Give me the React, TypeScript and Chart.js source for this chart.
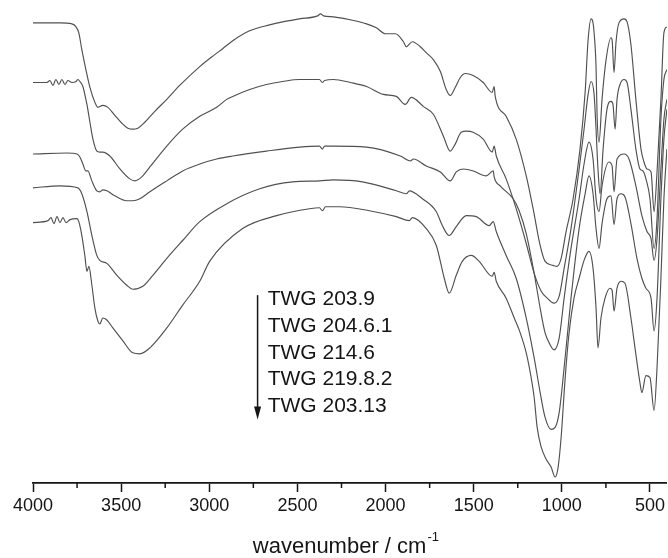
import React, { useEffect, useRef } from 'react';
import { Chart, registerables } from 'chart.js';

Chart.register(...registerables);

// ---- axis settings ----
const X_MIN = 404;
const X_MAX = 4000;
const Y_MIN = 2.8;
const Y_MAX = 100;
const xTickValues = [4000, 3500, 3000, 2500, 2000, 1500, 1000, 500];
const xMinorTickValues = [3750, 3250, 2750, 2250, 1750, 1250, 750];

// ---- series names (top to bottom) ----
const seriesLabels = ['TWG 203.9', 'TWG 204.6.1', 'TWG 214.6', 'TWG 219.8.2', 'TWG 203.13'];

// ---- spectra: [wavenumber (cm-1), transmittance (a.u., offset)] ----
const spectrumA: [number, number][] = [
  [4000, 95.4], [3847, 95.4], [3779, 95.2], [3756, 94.6], [3740, 93.4], [3723, 90.0], [3700, 86.0],
  [3677, 82.4], [3649, 79.4], [3632, 78.4], [3604, 78.8], [3575, 78.4], [3536, 76.8], [3496, 75.2],
  [3462, 74.2], [3434, 74.0], [3405, 74.2], [3366, 75.4], [3309, 77.6], [3241, 80.0], [3168, 82.8],
  [3054, 86.6], [2969, 89.0], [2924, 90.2], [2867, 91.8], [2771, 93.8], [2658, 95.0], [2584, 95.6],
  [2488, 96.2], [2386, 96.8], [2369, 97.2], [2352, 96.8], [2295, 96.6], [2199, 96.0], [2108, 95.2],
  [2052, 94.4], [2001, 93.2], [1944, 93.2], [1899, 91.6], [1882, 90.6], [1848, 91.6], [1803, 90.6],
  [1769, 89.4], [1729, 88.0], [1689, 85.6], [1656, 82.0], [1633, 80.8], [1605, 82.4], [1576, 84.4],
  [1548, 85.2], [1503, 84.8], [1446, 83.4], [1395, 81.4], [1384, 82.6], [1378, 80.6], [1316, 76.6],
  [1259, 72.0], [1202, 64.6], [1163, 58.0], [1123, 50.6], [1095, 47.4], [1050, 46.6], [1027, 46.4],
  [1004, 48.0], [976, 53.4], [936, 60.0], [897, 70.0], [868, 81.4], [851, 92.0], [834, 96.2],
  [823, 95.4], [817, 93.4], [806, 86.6], [800, 76.6], [789, 71.4], [772, 80.0], [749, 88.0],
  [721, 92.4], [715, 92.0], [704, 85.4], [693, 91.4], [676, 95.4], [647, 96.2], [630, 95.6],
  [608, 91.0], [580, 80.0], [551, 70.0], [534, 67.4], [517, 66.0], [494, 65.4], [477, 57.4],
  [460, 65.4], [438, 80.0], [421, 93.4], [404, 94.6],
];

const spectrumB: [number, number][] = [
  [4000, 83.4], [3921, 83.4], [3904, 83.8], [3887, 82.8], [3870, 84.0], [3853, 83.0], [3836, 84.0],
  [3819, 83.0], [3802, 83.8], [3779, 83.4], [3756, 83.6], [3745, 84.0], [3734, 83.6], [3717, 82.6],
  [3700, 80.0], [3694, 79.0], [3677, 75.4], [3660, 72.0], [3638, 69.6], [3621, 69.4], [3604, 69.4],
  [3564, 68.6], [3507, 66.0], [3451, 64.0], [3422, 63.6], [3383, 64.4], [3337, 66.4], [3241, 70.6],
  [3151, 74.0], [3054, 76.6], [2958, 78.4], [2901, 80.0], [2867, 80.6], [2771, 82.0], [2675, 83.0],
  [2584, 83.6], [2488, 84.0], [2375, 84.0], [2358, 83.4], [2346, 83.8], [2295, 84.0], [2199, 83.4],
  [2108, 82.6], [2012, 81.0], [1939, 80.6], [1888, 79.0], [1854, 80.4], [1786, 78.6], [1729, 77.0],
  [1672, 72.6], [1633, 69.6], [1605, 71.0], [1571, 73.4], [1542, 73.6], [1503, 73.4], [1446, 72.0],
  [1395, 69.4], [1384, 70.6], [1372, 68.6], [1316, 64.0], [1259, 58.0], [1202, 51.0], [1157, 45.0],
  [1117, 41.4], [1083, 40.0], [1044, 39.0], [1015, 40.4], [987, 46.0], [948, 54.0], [902, 66.0],
  [874, 74.0], [851, 81.0], [834, 83.6], [817, 81.0], [806, 74.0], [795, 66.0], [783, 61.0],
  [766, 70.0], [744, 78.0], [721, 79.6], [710, 79.0], [698, 74.0], [687, 80.0], [670, 83.0],
  [647, 84.0], [630, 83.4], [608, 78.0], [580, 70.0], [557, 66.0], [540, 65.6], [523, 64.0],
  [500, 60.0], [477, 50.0], [460, 56.0], [438, 76.0], [421, 84.0], [404, 86.0],
];

const spectrumC: [number, number][] = [
  [4000, 69.0], [3807, 69.2], [3751, 69.0], [3734, 68.4], [3717, 67.0], [3700, 65.6], [3689, 65.6],
  [3666, 63.6], [3638, 61.6], [3621, 61.4], [3604, 61.8], [3581, 61.6], [3536, 60.6], [3468, 59.6],
  [3434, 59.6], [3394, 60.0], [3337, 61.4], [3241, 63.6], [3151, 65.6], [3054, 67.0], [2958, 68.0],
  [2867, 68.6], [2675, 69.6], [2488, 70.4], [2375, 70.6], [2358, 70.0], [2346, 70.6], [2295, 70.6],
  [2108, 70.4], [1916, 68.6], [1859, 67.6], [1842, 68.0], [1769, 66.6], [1689, 65.4], [1633, 63.6],
  [1599, 65.4], [1559, 66.0], [1503, 65.6], [1429, 64.6], [1389, 65.6], [1384, 64.4], [1350, 62.6],
  [1276, 60.0], [1242, 57.6], [1202, 53.0], [1157, 45.0], [1123, 38.0], [1095, 33.0], [1072, 31.0],
  [1044, 29.6], [1015, 32.0], [987, 40.0], [948, 50.0], [902, 60.0], [874, 67.0], [846, 71.4],
  [823, 68.0], [806, 60.0], [789, 57.4], [772, 62.6], [733, 67.4], [715, 66.6], [704, 61.4],
  [687, 68.0], [647, 69.0], [619, 68.0], [580, 62.6], [546, 56.6], [517, 53.4], [494, 52.0],
  [477, 47.6], [460, 52.0], [438, 66.0], [421, 76.0], [404, 80.0],
];

const spectrumD: [number, number][] = [
  [4000, 62.2], [3847, 62.6], [3745, 62.2], [3723, 61.0], [3694, 57.4], [3666, 52.6], [3638, 48.6],
  [3621, 47.6], [3581, 47.0], [3524, 44.6], [3468, 42.6], [3434, 41.8], [3377, 42.4], [3320, 44.6],
  [3241, 48.0], [3151, 51.6], [3054, 55.4], [2901, 59.0], [2714, 62.0], [2528, 63.4], [2375, 63.6],
  [2295, 63.8], [2131, 63.4], [1939, 61.6], [1882, 61.0], [1865, 61.6], [1791, 60.0], [1712, 57.4],
  [1678, 54.6], [1639, 52.6], [1599, 54.4], [1542, 56.6], [1486, 56.4], [1412, 54.6], [1389, 55.4],
  [1372, 53.4], [1316, 48.6], [1259, 44.0], [1202, 36.0], [1157, 28.0], [1123, 21.0], [1095, 16.0],
  [1061, 13.6], [1038, 14.0], [1015, 17.0], [987, 26.0], [948, 40.0], [902, 54.0], [868, 61.0],
  [846, 64.6], [823, 61.0], [806, 54.0], [789, 50.0], [772, 55.0], [744, 60.0], [721, 60.6],
  [704, 54.8], [687, 60.0], [664, 61.0], [642, 60.4], [608, 55.0], [574, 48.0], [546, 44.0],
  [523, 42.0], [494, 40.0], [477, 33.4], [460, 40.0], [438, 60.0], [421, 72.0], [404, 78.0],
];

const spectrumE: [number, number][] = [
  [4000, 55.2], [3915, 55.6], [3898, 56.2], [3881, 55.0], [3864, 56.4], [3847, 55.2], [3830, 56.2],
  [3813, 55.2], [3790, 55.8], [3751, 56.0], [3740, 55.4], [3723, 52.6], [3706, 48.6], [3694, 45.4],
  [3683, 46.4], [3666, 42.6], [3649, 38.0], [3632, 35.4], [3621, 34.8], [3604, 36.0], [3581, 35.6],
  [3547, 34.0], [3490, 31.4], [3434, 29.0], [3394, 28.8], [3337, 30.0], [3241, 34.0], [3151, 38.6],
  [3054, 43.4], [2998, 47.4], [2811, 54.0], [2618, 56.6], [2431, 58.0], [2375, 58.2], [2358, 57.6],
  [2341, 58.4], [2261, 58.4], [2092, 57.6], [1939, 56.4], [1865, 55.6], [1848, 56.2], [1769, 54.0],
  [1712, 50.6], [1667, 44.0], [1639, 41.0], [1599, 44.6], [1565, 47.4], [1514, 48.6], [1469, 47.4],
  [1395, 44.4], [1384, 45.2], [1372, 43.4], [1316, 40.0], [1270, 36.0], [1236, 33.0], [1202, 29.0],
  [1174, 24.0], [1157, 20.0], [1140, 14.0], [1117, 10.0], [1089, 7.6], [1061, 6.0], [1038, 4.0],
  [1021, 6.0], [1004, 12.0], [981, 24.0], [959, 33.0], [931, 40.0], [902, 44.0], [874, 47.6],
  [846, 49.4], [823, 46.0], [806, 38.0], [795, 30.0], [778, 36.0], [755, 40.0], [727, 42.0],
  [715, 41.6], [704, 37.4], [687, 42.0], [664, 43.4], [642, 43.0], [608, 36.0], [585, 30.0],
  [557, 23.0], [546, 21.0], [523, 24.4], [500, 24.0], [477, 17.4], [460, 26.0], [438, 44.0],
  [421, 60.0], [404, 70.0],
];

const spectra = [spectrumA, spectrumB, spectrumC, spectrumD, spectrumE];

// ---- annotation (in data coordinates) ----
const annotationX = 2669;
const annotationYs = [39.8, 34.4, 29.0, 23.6, 18.2];
const arrowX = 2726;
const arrowTopY = 40.6;
const arrowBottomY = 15.6;
const axisTitle = 'wavenumber / cm';
const axisTitleSup = '-1';
const axisTitleCenterX = 2228;

const FONT = '"Liberation Sans", Arial, Helvetica, sans-serif';
const LINE_COLOR = '#505050';
const INK = '#151515';

const decorPlugin = {
  id: 'decor',
  afterDraw(chart: any) {
    const { ctx } = chart;
    const x = chart.scales.x;
    const y = chart.scales.y;
    ctx.save();
    // minor ticks
    ctx.strokeStyle = INK;
    ctx.lineWidth = 1.5;
    for (const v of xMinorTickValues) {
      const px = x.getPixelForValue(v);
      ctx.beginPath();
      ctx.moveTo(px, x.top);
      ctx.lineTo(px, x.top + 5);
      ctx.stroke();
    }
    // arrow
    const ax = x.getPixelForValue(arrowX);
    const ay1 = y.getPixelForValue(arrowTopY);
    const ay2 = y.getPixelForValue(arrowBottomY);
    ctx.lineWidth = 1.5;
    ctx.beginPath();
    ctx.moveTo(ax, ay1);
    ctx.lineTo(ax, ay2 - 10);
    ctx.stroke();
    ctx.fillStyle = INK;
    ctx.beginPath();
    ctx.moveTo(ax - 3.5, ay2 - 13);
    ctx.lineTo(ax + 3.5, ay2 - 13);
    ctx.lineTo(ax, ay2);
    ctx.closePath();
    ctx.fill();
    // labels
    ctx.font = `21px ${FONT}`;
    ctx.textAlign = 'left';
    ctx.textBaseline = 'middle';
    const tx = x.getPixelForValue(annotationX);
    seriesLabels.forEach((t, i) => {
      ctx.fillText(t, tx, y.getPixelForValue(annotationYs[i]));
    });
    // axis title with superscript
    ctx.textBaseline = 'alphabetic';
    ctx.font = `22px ${FONT}`;
    const w1 = ctx.measureText(axisTitle).width;
    ctx.font = `13px ${FONT}`;
    const w2 = ctx.measureText(axisTitleSup).width;
    const cx = x.getPixelForValue(axisTitleCenterX);
    const sx = cx - (w1 + w2) / 2;
    const base = chart.height - 5;
    ctx.font = `22px ${FONT}`;
    ctx.fillText(axisTitle, sx, base);
    ctx.font = `13px ${FONT}`;
    ctx.fillText(axisTitleSup, sx + w1 + 1, base - 12);
    ctx.restore();
  },
};

export default function App() {
  const canvasRef = useRef<HTMLCanvasElement | null>(null);

  useEffect(() => {
    const canvas = canvasRef.current;
    if (!canvas) return;
    const chart = new Chart(canvas, {
      type: 'line',
      data: {
        datasets: spectra.map((s, i) => ({
          label: seriesLabels[i],
          data: s.map(([wx, wy]) => ({ x: wx, y: wy })),
          borderColor: LINE_COLOR,
          borderWidth: 1.15,
          pointRadius: 0,
          fill: false,
          cubicInterpolationMode: 'monotone',
        })),
      },
      options: {
        animation: false,
        responsive: false,
        maintainAspectRatio: false,
        devicePixelRatio: 1,
        layout: { padding: { left: 33, right: 0, top: 0, bottom: 38.4 } },
        plugins: {
          legend: { display: false },
          tooltip: { enabled: false },
          title: { display: false },
        },
        scales: {
          x: {
            type: 'linear',
            reverse: true,
            min: X_MIN,
            max: X_MAX,
            afterBuildTicks: (scale: any) => {
              scale.ticks = xTickValues.map((v) => ({ value: v }));
            },
            ticks: {
              autoSkip: false,
              maxRotation: 0,
              padding: 3,
              color: INK,
              font: { family: FONT, size: 18 },
              callback: (v: any) => String(v),
            },
            grid: {
              drawOnChartArea: false,
              drawTicks: true,
              tickLength: 9,
              tickWidth: 1.5,
              tickColor: INK,
            },
            border: { display: true, color: INK, width: 1.8 },
          },
          y: {
            type: 'linear',
            display: false,
            min: Y_MIN,
            max: Y_MAX,
          },
        },
      },
      plugins: [decorPlugin],
    } as any);
    return () => chart.destroy();
  }, []);

  return (
    <div style={{ position: 'fixed', left: 0, top: 0, width: 668, height: 558, background: '#fff' }}>
      <canvas ref={canvasRef} width={668} height={558} style={{ display: 'block', width: 668, height: 558 }} />
    </div>
  );
}
